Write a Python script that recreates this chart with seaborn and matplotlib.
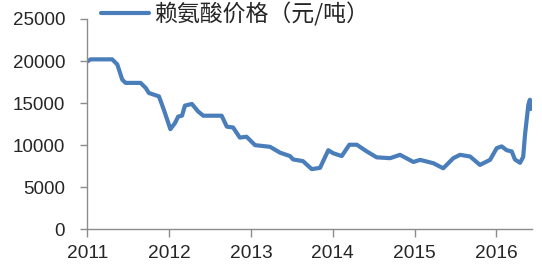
import matplotlib
matplotlib.use("Agg")
import matplotlib.pyplot as plt
import seaborn as sns
import pandas as pd

dates = [
    "2011-01-01", "2011-01-16", "2011-04-22", "2011-05-15", "2011-06-06",
    "2011-06-21", "2011-08-27", "2011-09-19", "2011-10-03", "2011-11-17",
    "2011-12-09", "2012-01-07", "2012-01-27", "2012-02-11", "2012-02-28",
    "2012-03-12", "2012-04-12", "2012-05-10", "2012-06-02", "2012-08-23",
    "2012-09-15", "2012-10-13", "2012-11-12", "2012-12-12", "2013-01-19",
    "2013-03-27", "2013-05-11", "2013-06-24", "2013-07-08", "2013-08-21",
    "2013-09-29", "2013-11-05", "2013-12-12", "2014-01-02", "2014-02-10",
    "2014-03-16", "2014-04-18", "2014-06-02", "2014-07-16", "2014-09-14",
    "2014-10-28", "2014-12-27", "2015-01-26", "2015-03-26", "2015-05-09",
    "2015-06-23", "2015-07-23", "2015-09-06", "2015-10-20", "2015-12-04",
    "2016-01-03", "2016-01-25", "2016-02-16", "2016-03-10", "2016-03-24",
    "2016-04-16", "2016-04-30", "2016-05-08", "2016-05-23", "2016-05-30",
    "2016-06-02",
]
prices = [
    19950, 20200, 20200, 19600, 17800,
    17400, 17400, 16800, 16200, 15800,
    14200, 11900, 12600, 13400, 13500,
    14700, 14900, 14000, 13500, 13500,
    12200, 12100, 10900, 11000, 10000,
    9800, 9100, 8700, 8300, 8100,
    7150, 7300, 9400, 9050, 8700,
    10050, 10050, 9250, 8550, 8450,
    8850, 8000, 8250, 7850, 7250,
    8450, 8850, 8650, 7650, 8250,
    9650, 9850, 9400, 9250, 8300,
    7900, 8600, 11200, 14800, 15400,
    14300,
]
series_label = "赖氨酸价格（元/吨）"
year_ticks = ["2011", "2012", "2013", "2014", "2015", "2016"]
y_ticks = [0, 5000, 10000, 15000, 20000, 25000]

df = pd.DataFrame({"date": pd.to_datetime(dates), "price": prices})

sns.set_style("white")
plt.rcParams["font.family"] = ["Liberation Sans", "Noto Sans CJK SC", "DejaVu Sans"]

fig = plt.figure(figsize=(5.42, 2.71), dpi=100)
ax = fig.add_axes([0.161, 0.154, 0.820, 0.776])

sns.lineplot(data=df, x="date", y="price", ax=ax, color="#4A7EBB",
             linewidth=3.0, label=series_label, legend=False)

ax.set_xlim(pd.Timestamp("2011-01-01"), pd.Timestamp("2016-06-07"))
ax.set_ylim(0, 25000)
ax.set_yticks(y_ticks)
ax.set_yticklabels([str(v) for v in y_ticks])
ax.set_xticks([pd.Timestamp(f"{y}-01-01") for y in year_ticks])
ax.set_xticklabels(year_ticks)
ax.set_xlabel("")
ax.set_ylabel("")

for s in ["top", "right"]:
    ax.spines[s].set_visible(False)
for s in ["left", "bottom"]:
    ax.spines[s].set_color("#8C8C8C")
    ax.spines[s].set_linewidth(1.0)

ax.tick_params(axis="y", direction="out", length=5, width=1, color="#8C8C8C",
               pad=11, labelsize=13.5, labelcolor="#262626", left=True)
ax.tick_params(axis="x", direction="out", length=6, width=1, color="#8C8C8C",
               pad=5, labelsize=13.8, labelcolor="#262626", bottom=True)

handles, labels = ax.get_legend_handles_labels()
leg = fig.legend(handles, labels, loc="center left",
                 bbox_to_anchor=(101 / 542, 1 - 14 / 271), frameon=False,
                 handlelength=2.1, handletextpad=0.25, borderaxespad=0,
                 borderpad=0,
                 prop={"family": ["Noto Sans CJK SC", "DejaVu Sans"], "size": 16.5})
for t in leg.get_texts():
    t.set_color("#262626")

fig.savefig("out.png", dpi=100)
